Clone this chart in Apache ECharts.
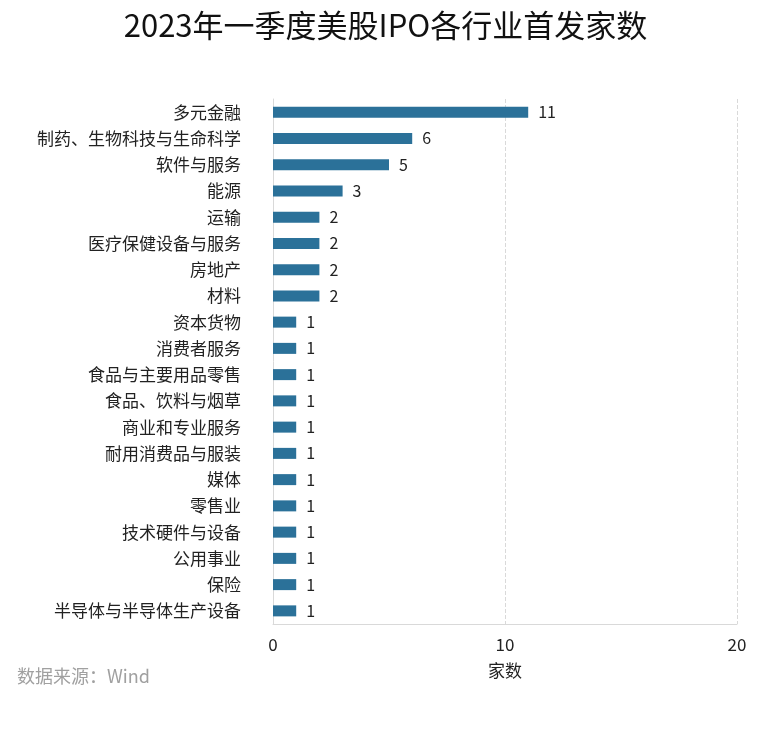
<!DOCTYPE html>
<html><head><meta charset="utf-8">
<script src="https://cdn.jsdelivr.net/npm/echarts@6/dist/echarts.min.js"></script>
<style>html,body{margin:0;padding:0;background:#fff}#c{width:771px;height:734px}</style>
</head><body><div id="c"></div>
<script>
const categories = ["多元金融","制药、生物科技与生命科学","软件与服务","能源","运输","医疗保健设备与服务","房地产","材料","资本货物","消费者服务","食品与主要用品零售","食品、饮料与烟草","商业和专业服务","耐用消费品与服装","媒体","零售业","技术硬件与设备","公用事业","保险","半导体与半导体生产设备"];
const values = [11,6,5,3,2,2,2,2,1,1,1,1,1,1,1,1,1,1,1,1];
const xTicks = [0,10,20];
const font = '"Noto Sans CJK SC", "Microsoft YaHei", sans-serif';
const chart = echarts.init(document.getElementById('c'));
chart.setOption({
  backgroundColor:'#fff',
  animation:false,
  title:{text:'2023年一季度美股IPO各行业首发家数',left:'center',top:5,textStyle:{fontFamily:font,fontSize:31,fontWeight:'normal',color:'#111'}},
  graphic:[{type:'text',left:17,top:667,style:{text:'数据来源：Wind',fontFamily:font,fontSize:18,fill:'#a0a0a0'}}],
  grid:{left:273,right:34,top:99,bottom:110,containLabel:false},
  xAxis:{type:'value',min:0,max:20,interval:10,
    name:'家数',nameLocation:'middle',nameGap:38,nameTextStyle:{fontFamily:font,fontSize:17,color:'#222'},
    axisLine:{show:true,lineStyle:{color:'#d9d9d9'}},axisTick:{show:false},
    axisLabel:{fontFamily:font,fontSize:17,color:'#222',margin:12,formatter:v=>xTicks.includes(v)?String(v):''},
    splitLine:{show:true,lineStyle:{color:'#d9d9d9',type:'dashed'}}},
  yAxis:{type:'category',data:categories,inverse:true,
    axisLine:{show:true,lineStyle:{color:'#d9d9d9'}},axisTick:{show:false},
    axisLabel:{fontFamily:font,fontSize:17,color:'#222',margin:32}},
  series:[{type:'bar',data:values,barWidth:11,itemStyle:{color:'#2b7199'},
    label:{show:true,position:'right',distance:10,fontFamily:font,fontSize:16,color:'#222'}}]
});
</script></body></html>
